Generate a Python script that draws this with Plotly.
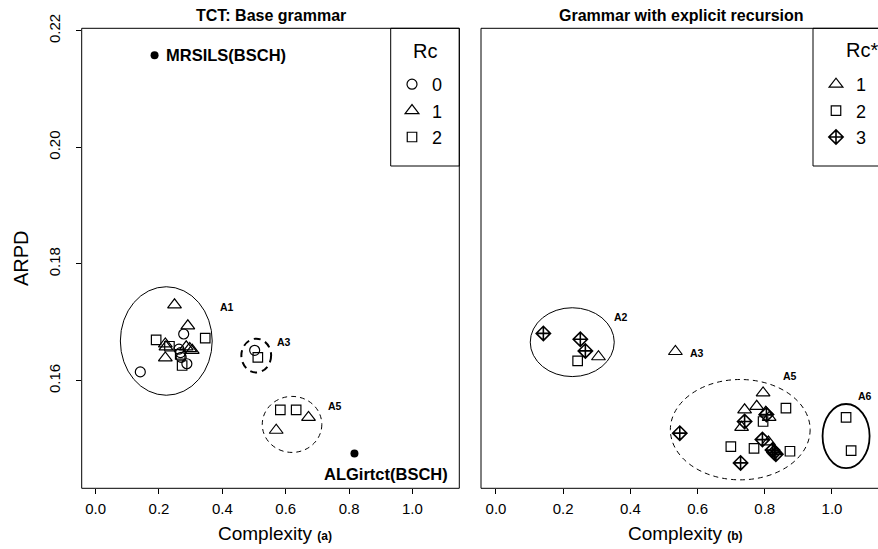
import plotly.graph_objects as go

W, H = 878, 549
FONT = "Liberation Sans, Arial, sans-serif"

# ---------------- data: left panel (TCT: Base grammar) ----------------
a_rc0_x = [0.278, 0.263, 0.268, 0.270, 0.288, 0.141, 0.502]
a_rc0_y = [0.1680, 0.1654, 0.1648, 0.1640, 0.1629, 0.1615, 0.1652]
a_rc1_x = [0.249, 0.291, 0.220, 0.222, 0.286, 0.297, 0.305, 0.220, 0.570, 0.672]
a_rc1_y = [0.1730, 0.1694, 0.1663, 0.1658, 0.1658, 0.1655, 0.1652, 0.1639, 0.1515, 0.1537]
a_rc2_x = [0.346, 0.191, 0.233, 0.267, 0.273, 0.512, 0.583, 0.633]
a_rc2_y = [0.1673, 0.1670, 0.1659, 0.1645, 0.1626, 0.1640, 0.1550, 0.1550]
a_ref_names = ["MRSILS(BSCH)", "ALGirtct(BSCH)"]
a_ref_x = [0.186, 0.817]
a_ref_y = [0.2158, 0.1475]

# clusters: name, center x, center y, radius x, radius y
a_clusters = ["A1", "A3", "A5"]
a_cl_cx = [0.223, 0.507, 0.620]
a_cl_cy = [0.1668, 0.1643, 0.1525]
a_cl_rx = [0.145, 0.047, 0.094]
a_cl_ry = [0.0093, 0.0029, 0.0048]
a_lab_x = [0.414, 0.595, 0.756]
a_lab_y = [0.1727, 0.1667, 0.1557]

# ---------------- data: right panel (explicit recursion) ----------------
b_rc1_x = [0.305, 0.534, 0.795, 0.776, 0.740, 0.803, 0.813, 0.731, 0.811]
b_rc1_y = [0.1641, 0.1650, 0.1579, 0.1556, 0.1550, 0.1546, 0.1537, 0.1520, 0.1495]
b_rc2_x = [0.243, 0.863, 0.795, 0.699, 0.768, 0.875, 1.042, 1.057]
b_rc2_y = [0.1634, 0.1553, 0.1530, 0.1487, 0.1484, 0.1479, 0.1537, 0.1480]
b_rc3_x = [0.141, 0.251, 0.266, 0.805, 0.740, 0.547, 0.793, 0.823, 0.828, 0.833, 0.728]
b_rc3_y = [0.1681, 0.1671, 0.1651, 0.1542, 0.1530, 0.1510, 0.1499, 0.1481, 0.1477, 0.1474, 0.1459]

b_clusters = ["A2", "A3", "A5", "A6"]
b_cl_cx = [0.227, None, 0.727, 1.042]
b_cl_cy = [0.1666, None, 0.1516, 0.1505]
b_cl_rx = [0.125, None, 0.208, 0.070]
b_cl_ry = [0.0059, None, 0.0086, 0.0055]
b_lab_x = [0.371, 0.598, 0.875, 1.098]
b_lab_y = [0.1709, 0.1648, 0.1608, 0.1573]

x_ticks = [0.0, 0.2, 0.4, 0.6, 0.8, 1.0]
y_ticks = [0.16, 0.18, 0.20, 0.22]
x_range_a = [-0.044, 1.148]
x_range_b = [-0.0446, 1.137]
y_range = [0.14155, 0.2204]

legend_titles = ["Rc", "Rc*"]

# styles (per cluster name)
cl_style = {
    ("a", "A1"): dict(width=1, dash="solid"),
    ("a", "A3"): dict(width=2, dash="7px,5px"),
    ("a", "A5"): dict(width=1, dash="5px,4px"),
    ("b", "A2"): dict(width=1, dash="solid"),
    ("b", "A5"): dict(width=1, dash="5px,4px"),
    ("b", "A6"): dict(width=1.8, dash="solid"),
}

def PX(p):   # window pixel -> paper x
    return p / W

def PY(p):   # window pixel -> paper y
    return 1 - p / H

# ---------------- figure ----------------
fig = go.Figure()

def pts(x, y, sym, name, xa, ya, leg, size=10, width=1.2):
    fig.add_trace(go.Scatter(
        x=x, y=y, mode="markers", name=name, xaxis=xa, yaxis=ya, legend=leg,
        marker=dict(symbol=sym, size=size, color="black",
                    line=dict(color="black", width=width)),
        hoverinfo="x+y"))

pts(a_rc0_x, a_rc0_y, "circle-open", "0", "x", "y", "legend", 10)
pts(a_rc1_x, a_rc1_y, "triangle-up-open", "1", "x", "y", "legend", 12)
pts(a_rc2_x, a_rc2_y, "square-open", "2", "x", "y", "legend", 9.5)
fig.add_trace(go.Scatter(x=a_ref_x, y=a_ref_y, mode="markers", showlegend=False,
                         xaxis="x", yaxis="y",
                         marker=dict(symbol="circle", size=8, color="black"),
                         text=a_ref_names, hoverinfo="text"))

pts(b_rc1_x, b_rc1_y, "triangle-up-open", "1", "x2", "y2", "legend2", 12)
pts(b_rc2_x, b_rc2_y, "square-open", "2", "x2", "y2", "legend2", 9.5)
pts(b_rc3_x, b_rc3_y, "diamond-cross-open", "3", "x2", "y2", "legend2", 11, 1.6)

shapes = []
annots = []

def clusters(panel, names, cx, cy, rx, ry, lx, ly, xr, yr):
    for i, n in enumerate(names):
        if cx[i] is not None:
            st = cl_style[(panel, n)]
            shapes.append(dict(type="circle", xref=xr, yref=yr,
                               x0=cx[i] - rx[i], x1=cx[i] + rx[i],
                               y0=cy[i] - ry[i], y1=cy[i] + ry[i],
                               line=dict(color="black", width=st["width"], dash=st["dash"])))
        annots.append(dict(x=lx[i], y=ly[i], xref=xr, yref=yr, text="<b>%s</b>" % n,
                           showarrow=False, xanchor="center", yanchor="middle",
                           font=dict(size=10.5, family=FONT, color="black")))

clusters("a", a_clusters, a_cl_cx, a_cl_cy, a_cl_rx, a_cl_ry, a_lab_x, a_lab_y, "x", "y")
clusters("b", b_clusters, b_cl_cx, b_cl_cy, b_cl_rx, b_cl_ry, b_lab_x, b_lab_y, "x2", "y2")

# reference point labels
annots.append(dict(x=a_ref_x[0], y=a_ref_y[0], xref="x", yref="y", text="<b>%s</b>" % a_ref_names[0],
                   showarrow=False, xanchor="left", yanchor="middle", xshift=9,
                   font=dict(size=16.5, family=FONT, color="black")))
annots.append(dict(x=a_ref_x[1], y=a_ref_y[1], xref="x", yref="y", text="<b>%s</b>" % a_ref_names[1],
                   showarrow=False, xanchor="center", yanchor="middle", xshift=32, yshift=-20,
                   font=dict(size=16.5, family=FONT, color="black")))

# frames
L1, R1 = PX(81.7), PX(459.3)
L2, R2 = PX(481), 1.0
B, T = PY(488.3), PY(28.3)
ln = dict(color="black", width=1)
shapes.append(dict(type="rect", xref="paper", yref="paper", x0=L1, x1=R1, y0=B, y1=T, line=ln))
shapes.append(dict(type="line", xref="paper", yref="paper", x0=L2, x1=1.02, y0=B, y1=B, line=ln))
shapes.append(dict(type="line", xref="paper", yref="paper", x0=L2, x1=1.02, y0=T, y1=T, line=ln))
shapes.append(dict(type="line", xref="paper", yref="paper", x0=L2, x1=L2, y0=B, y1=T, line=ln))
# legend boxes
shapes.append(dict(type="rect", xref="paper", yref="paper", x0=PX(390.7), x1=R1,
                   y0=PY(166), y1=T, line=ln))
shapes.append(dict(type="rect", xref="paper", yref="paper", x0=PX(813), x1=1.02,
                   y0=PY(166), y1=T, line=ln))

# titles
def txt(xp, yp, text, size, bold=False, angle=0):
    annots.append(dict(x=PX(xp), y=PY(yp), xref="paper", yref="paper", showarrow=False,
                       xanchor="center", yanchor="middle", textangle=angle,
                       text=("<b>%s</b>" % text) if bold else text,
                       font=dict(size=size, family=FONT, color="black")))

txt(270.5, 15, "TCT: Base grammar", 16, bold=True)
txt(681, 15, "Grammar with explicit recursion", 16, bold=True)
txt(275, 533, "Complexity <b><span style='font-size:12px'>(a)</span></b>", 19)
txt(685, 533, "Complexity <b><span style='font-size:12px'>(b)</span></b>", 19)
txt(21, 258, "ARPD", 20, angle=-90)
txt(425, 51, legend_titles[0], 20)
txt(862, 50, legend_titles[1], 20)

axis_common = dict(showgrid=False, zeroline=False, showline=False, ticks="outside",
                   ticklen=5, tickcolor="black", tickwidth=1, automargin=False,
                   tickfont=dict(size=15, family=FONT, color="black"))

leg_common = dict(xanchor="left", yanchor="top", bgcolor="rgba(0,0,0,0)", borderwidth=0,
                  itemsizing="trace", font=dict(size=18, family=FONT, color="black"))

fig.update_layout(
    width=W, height=H, margin=dict(l=0, r=0, t=0, b=0, autoexpand=False),
    paper_bgcolor="white", plot_bgcolor="white",
    xaxis=dict(domain=[L1, R1], range=x_range_a, anchor="y", tickvals=x_ticks,
               ticktext=["%.1f" % v for v in x_ticks], ticklabelstandoff=2, **axis_common),
    xaxis2=dict(domain=[L2, R2], range=x_range_b, anchor="y2", tickvals=x_ticks,
                ticktext=["%.1f" % v for v in x_ticks], ticklabelstandoff=2, **axis_common),
    yaxis=dict(domain=[B, T], range=y_range, anchor="x", tickvals=y_ticks,
               ticktext=["%.2f" % v for v in y_ticks], tickangle=-90, ticklabelstandoff=10,
               **axis_common),
    yaxis2=dict(domain=[B, T], range=y_range, anchor="x2", showticklabels=False,
                showgrid=False, zeroline=False, ticks="", automargin=False),
    legend=dict(x=PX(392), y=PY(66), **leg_common),
    legend2=dict(x=PX(816), y=PY(66), **leg_common),
    shapes=shapes, annotations=annots, showlegend=True,
)

fig.write_html("out.html", config={"displayModeBar": False},
               post_script="document.body.style.margin='0px';")
